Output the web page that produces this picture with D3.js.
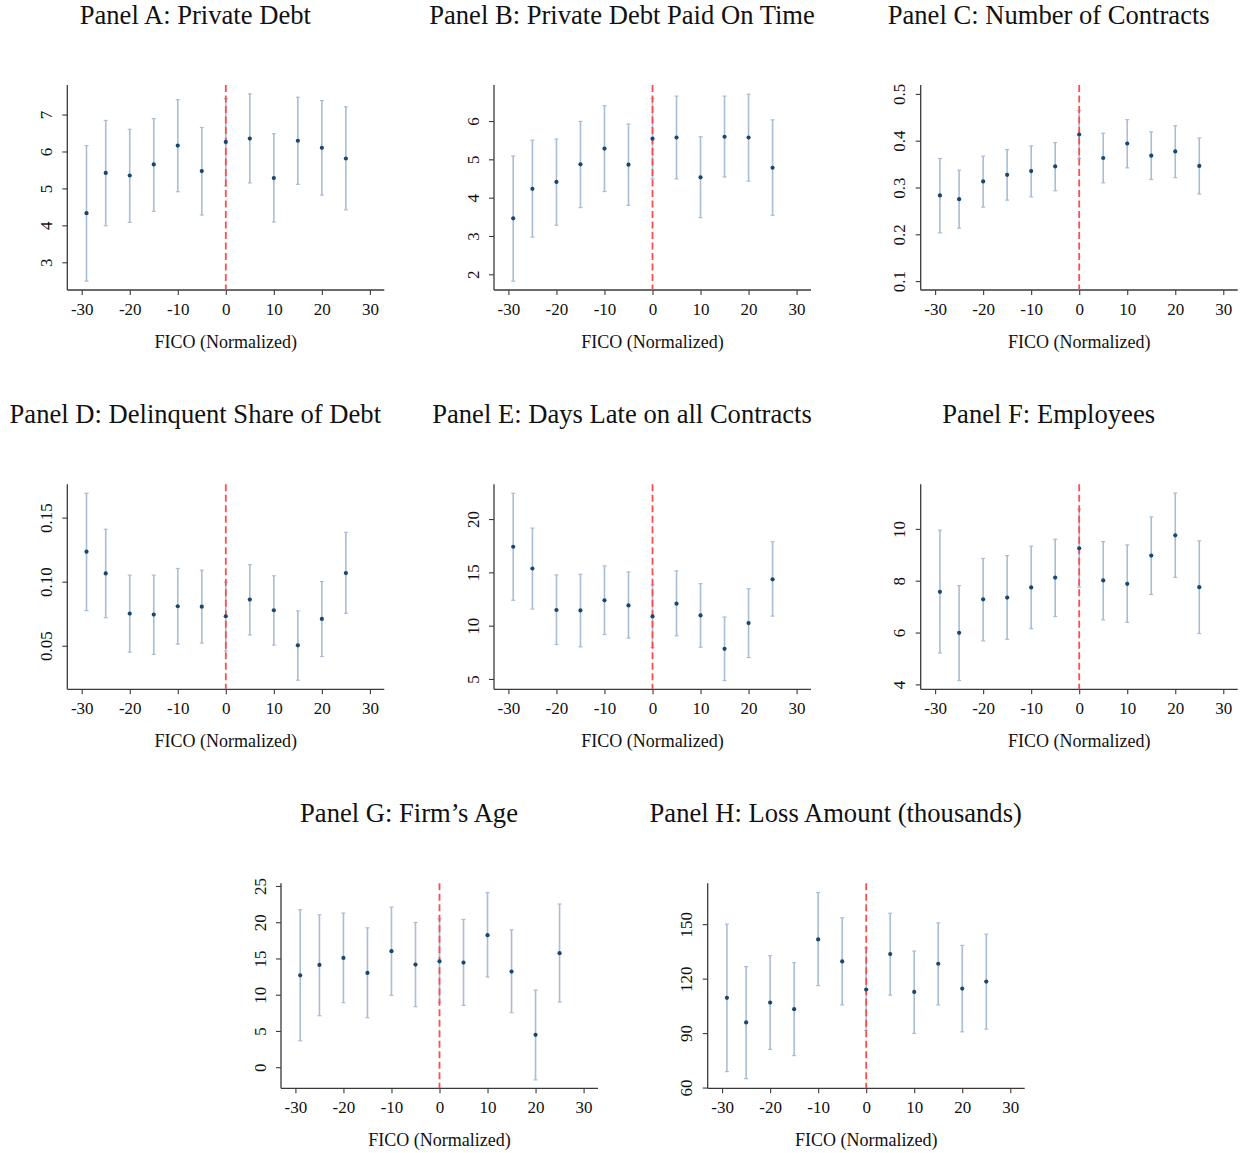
<!DOCTYPE html>
<html>
<head>
<meta charset="utf-8">
<script src="https://cdn.jsdelivr.net/npm/d3@7/dist/d3.min.js"></script>
<style>
  html, body { margin: 0; padding: 0; background: #fff; }
  svg { display: block; }
  text { font-family: "Liberation Serif", "Times New Roman", serif; fill: #111; }
</style>
</head>
<body>
<div id="chart"></div>
<script>
// FICO bins (normalized score relative to the cutoff)
const fico = [-29, -25, -20, -15, -10, -5, 0, 5, 10, 15, 20, 25];
const xTicks = [-30, -20, -10, 0, 10, 20, 30];

// Panel A: Private Debt
const debtEst = [4.33, 5.42, 5.35, 5.65, 6.16, 5.47, 6.26, 6.35, 5.28, 6.29, 6.10, 5.81];
const debtLo  = [2.49, 3.99, 4.08, 4.38, 4.91, 4.28, 5.07, 5.15, 4.09, 5.11, 4.82, 4.42];
const debtHi  = [6.16, 6.84, 6.60, 6.89, 7.40, 6.65, 7.43, 7.56, 6.48, 7.47, 7.38, 7.21];
const debtTicks = [3, 4, 5, 6, 7];
const debtRange = [2.25, 7.80];

// Panel B: Private Debt Paid On Time
const onTimeEst = [3.46, 4.23, 4.41, 4.87, 5.28, 4.86, 5.54, 5.57, 4.53, 5.59, 5.57, 4.78];
const onTimeLo  = [1.82, 2.97, 3.28, 3.74, 4.16, 3.80, 4.49, 4.49, 3.48, 4.54, 4.43, 3.54];
const onTimeHi  = [5.09, 5.50, 5.53, 5.99, 6.40, 5.92, 6.59, 6.65, 5.59, 6.65, 6.70, 6.03];
const onTimeTicks = [2, 3, 4, 5, 6];
const onTimeRange = [1.59, 6.94];

// Panel C: Number of Contracts
const contractsEst = [0.283, 0.275, 0.313, 0.327, 0.335, 0.345, 0.413, 0.363, 0.394, 0.368, 0.377, 0.346];
const contractsLo  = [0.203, 0.213, 0.258, 0.273, 0.280, 0.293, 0.362, 0.310, 0.342, 0.317, 0.321, 0.286];
const contractsHi  = [0.362, 0.337, 0.367, 0.381, 0.389, 0.396, 0.464, 0.416, 0.445, 0.419, 0.432, 0.406];
const contractsTicks = [0.1, 0.2, 0.3, 0.4, 0.5];
const contractsRange = [0.081, 0.519];

// Panel D: Delinquent Share of Debt
const delinqEst = [0.1234, 0.1064, 0.0751, 0.0743, 0.0808, 0.0805, 0.0730, 0.0860, 0.0777, 0.0503, 0.0709, 0.1067];
const delinqLo  = [0.0774, 0.0719, 0.0450, 0.0432, 0.0513, 0.0521, 0.0458, 0.0584, 0.0505, 0.0231, 0.0416, 0.0753];
const delinqHi  = [0.1690, 0.1409, 0.1051, 0.1051, 0.1103, 0.1090, 0.0996, 0.1132, 0.1046, 0.0772, 0.1001, 0.1385];
const delinqTicks = [0.05, 0.10, 0.15];
const delinqRange = [0.016, 0.176];

// Panel E: Days Late on all Contracts
const daysLateEst = [17.40, 15.36, 11.47, 11.43, 12.38, 11.90, 10.87, 12.06, 10.96, 7.83, 10.24, 14.35];
const daysLateLo  = [12.38, 11.56, 8.23, 8.01, 9.17, 8.83, 7.95, 9.05, 7.98, 4.85, 7.01, 10.90];
const daysLateHi  = [22.42, 19.15, 14.76, 14.82, 15.61, 15.04, 13.82, 15.14, 13.94, 10.81, 13.47, 17.87];
const daysLateTicks = [5, 10, 15, 20];
const daysLateRange = [4.03, 23.26];

// Panel F: Employees
const employeesEst = [7.57, 5.99, 7.28, 7.35, 7.74, 8.12, 9.25, 8.01, 7.88, 8.97, 9.75, 7.75];
const employeesLo  = [5.21, 4.15, 5.68, 5.74, 6.15, 6.62, 7.75, 6.49, 6.39, 7.47, 8.13, 5.96];
const employeesHi  = [9.95, 7.81, 8.86, 8.97, 9.33, 9.60, 10.76, 9.51, 9.38, 10.46, 11.38, 9.54];
const employeesTicks = [4, 6, 8, 10];
const employeesRange = [3.81, 11.72];

// Panel G: Firm's Age
const ageEst = [12.68, 14.11, 15.08, 13.01, 16.01, 14.16, 14.62, 14.44, 18.22, 13.19, 4.47, 15.73];
const ageLo  = [3.64, 7.10, 8.90, 6.83, 9.92, 8.35, 8.90, 8.53, 12.45, 7.52, -1.75, 8.99];
const ageHi  = [21.73, 21.03, 21.26, 19.23, 22.09, 19.97, 20.48, 20.39, 24.08, 18.96, 10.65, 22.51];
const ageTicks = [0, 5, 10, 15, 20, 25];
const ageRange = [-2.91, 25.37];

// Panel H: Loss Amount (thousands)
const lossEst = [109.4, 95.9, 106.8, 103.2, 141.6, 129.5, 114.0, 133.5, 112.7, 128.2, 114.5, 118.4];
const lossLo  = [68.8, 64.9, 81.0, 77.6, 116.2, 105.5, 91.5, 110.9, 89.8, 105.5, 90.7, 92.2];
const lossHi  = [150.0, 126.6, 132.6, 128.8, 167.4, 153.5, 136.8, 156.0, 135.2, 150.7, 138.3, 144.5];
const lossTicks = [60, 90, 120, 150];
const lossRange = [59.6, 172.5];

const panels = [
  { title: "Panel A: Private Debt", est: debtEst, lo: debtLo, hi: debtHi, ticks: debtTicks, range: debtRange, fmt: d3.format("d") },
  { title: "Panel B: Private Debt Paid On Time", est: onTimeEst, lo: onTimeLo, hi: onTimeHi, ticks: onTimeTicks, range: onTimeRange, fmt: d3.format("d") },
  { title: "Panel C: Number of Contracts", est: contractsEst, lo: contractsLo, hi: contractsHi, ticks: contractsTicks, range: contractsRange, fmt: d3.format(".1f") },
  { title: "Panel D: Delinquent Share of Debt", est: delinqEst, lo: delinqLo, hi: delinqHi, ticks: delinqTicks, range: delinqRange, fmt: d3.format(".2f") },
  { title: "Panel E: Days Late on all Contracts", est: daysLateEst, lo: daysLateLo, hi: daysLateHi, ticks: daysLateTicks, range: daysLateRange, fmt: d3.format("d") },
  { title: "Panel F: Employees", est: employeesEst, lo: employeesLo, hi: employeesHi, ticks: employeesTicks, range: employeesRange, fmt: d3.format("d") },
  { title: "Panel G: Firm\u2019s Age", est: ageEst, lo: ageLo, hi: ageHi, ticks: ageTicks, range: ageRange, fmt: d3.format("d") },
  { title: "Panel H: Loss Amount (thousands)", est: lossEst, lo: lossLo, hi: lossHi, ticks: lossTicks, range: lossRange, fmt: d3.format("d") }
];

const W = 1246, H = 1153;
const plotW = 317, plotH = 205;
const colStep = 426.7;
const rowTops = [85, 484.3, 883.3];
const xDomain = [-33, 33];

const axisColor = "#3a3a3a";
const barColor = "#a9bdd3";
const dotColor = "#1a476f";
const cutoffColor = "#ff4d4d";

const svg = d3.select("#chart").append("svg")
  .attr("width", W).attr("height", H)
  .style("background", "#fff");

panels.forEach((p, i) => {
  const row = Math.floor(i / 3);
  const col = i % 3;
  const left = row < 2 ? 67.3 + col * colStep : 281 + col * colStep;
  const top = rowTops[row];

  const g = svg.append("g").attr("transform", `translate(${left},${top})`);

  const x = d3.scaleLinear().domain(xDomain).range([0, plotW]);
  const y = d3.scaleLinear().domain(p.range).range([plotH, 0]);

  // panel title
  g.append("text")
    .attr("x", plotW / 2 - 30.5)
    .attr("y", -61)
    .attr("text-anchor", "middle")
    .style("font-size", "26.6px")
    .text(p.title);

  // x axis
  const xAxis = g.append("g")
    .attr("transform", `translate(0,${plotH})`)
    .call(d3.axisBottom(x).tickValues(xTicks).tickSize(5).tickPadding(8).tickFormat(d3.format("d")));
  xAxis.select(".domain").attr("stroke", axisColor).attr("stroke-width", 1.3)
    .attr("d", `M0,0H${plotW}`);
  xAxis.selectAll(".tick line").attr("stroke", axisColor).attr("stroke-width", 1.1);
  xAxis.selectAll(".tick text")
    .attr("font-family", '"Liberation Serif", "Times New Roman", serif')
    .style("font-size", "17px").attr("fill", "#111")
    .text(d => d < 0 ? "-" + Math.abs(d) : d);

  // y axis with rotated tick labels
  const yAxis = g.append("g")
    .call(d3.axisLeft(y).tickValues(p.ticks).tickSize(5).tickFormat(p.fmt));
  yAxis.select(".domain").attr("stroke", axisColor).attr("stroke-width", 1.3)
    .attr("d", `M0,0V${plotH}`);
  yAxis.selectAll(".tick line").attr("stroke", axisColor).attr("stroke-width", 1.1);
  yAxis.selectAll(".tick text")
    .attr("font-family", '"Liberation Serif", "Times New Roman", serif')
    .style("font-size", "17px").attr("fill", "#111")
    .attr("x", null).attr("dy", null)
    .attr("text-anchor", "middle")
    .attr("transform", "translate(-15.5,0) rotate(-90)");

  // x axis title
  g.append("text")
    .attr("x", plotW / 2)
    .attr("y", plotH + 58)
    .attr("text-anchor", "middle")
    .style("font-size", "18px")
    .text("FICO (Normalized)");

  const rows = fico.map((f, k) => ({ f, est: p.est[k], lo: p.lo[k], hi: p.hi[k] }));

  // confidence intervals
  const bars = g.append("g");
  bars.selectAll("line.ci").data(rows).join("line")
    .attr("class", "ci")
    .attr("x1", d => x(d.f)).attr("x2", d => x(d.f))
    .attr("y1", d => y(d.lo)).attr("y2", d => y(d.hi))
    .attr("stroke", barColor).attr("stroke-width", 1.6);
  ["lo", "hi"].forEach(key => {
    bars.selectAll(`line.cap-${key}`).data(rows).join("line")
      .attr("class", `cap-${key}`)
      .attr("x1", d => x(d.f) - 2).attr("x2", d => x(d.f) + 2)
      .attr("y1", d => y(d[key])).attr("y2", d => y(d[key]))
      .attr("stroke", barColor).attr("stroke-width", 1.2);
  });

  // cutoff line at zero
  g.append("line")
    .attr("x1", x(0)).attr("x2", x(0))
    .attr("y1", 0).attr("y2", plotH)
    .attr("stroke", cutoffColor).attr("stroke-width", 1.8)
    .attr("stroke-dasharray", "7,3.5");

  // point estimates
  g.append("g").selectAll("circle").data(rows).join("circle")
    .attr("cx", d => x(d.f)).attr("cy", d => y(d.est))
    .attr("r", 2.1)
    .attr("fill", dotColor);
});
</script>
</body>
</html>
